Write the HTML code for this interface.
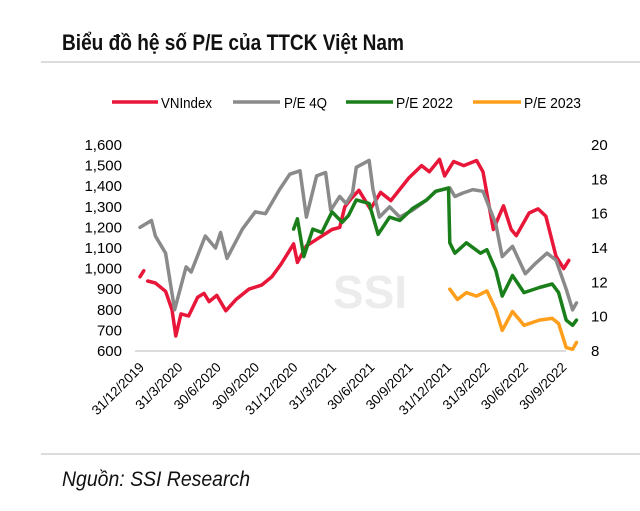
<!DOCTYPE html>
<html><head><meta charset="utf-8"><style>
body{margin:0;background:#fff;}
svg text{font-family:"Liberation Sans",sans-serif;}
</style></head><body>
<svg id="c" width="640" height="506" viewBox="0 0 640 506" xmlns="http://www.w3.org/2000/svg">
<text x="62" y="50" font-size="22" font-weight="bold" fill="#111" textLength="342" lengthAdjust="spacingAndGlyphs">Biểu đồ hệ số P/E của TTCK Việt Nam</text>
<line x1="41" y1="62" x2="640" y2="62" stroke="#d0d0d0" stroke-width="1.5"/>
<g>
<g><line x1="112" y1="102" x2="158" y2="102" stroke="#e8173a" stroke-width="3.5"/><text x="161" y="108" font-size="15" textLength="51" lengthAdjust="spacingAndGlyphs">VNIndex</text></g>
<g><line x1="233" y1="102" x2="280" y2="102" stroke="#8a8a8a" stroke-width="3.5"/><text x="284" y="108" font-size="15" textLength="43" lengthAdjust="spacingAndGlyphs">P/E 4Q</text></g>
<g><line x1="346" y1="102" x2="393" y2="102" stroke="#1a7f1a" stroke-width="3.5"/><text x="396" y="108" font-size="15" textLength="57" lengthAdjust="spacingAndGlyphs">P/E 2022</text></g>
<g><line x1="473" y1="102" x2="521" y2="102" stroke="#ff9e1b" stroke-width="3.5"/><text x="524" y="108" font-size="15" textLength="57" lengthAdjust="spacingAndGlyphs">P/E 2023</text></g>
</g>
<text x="370" y="308" font-size="46" font-weight="bold" fill="#ececec" text-anchor="middle">SSI</text>
<line x1="135" y1="351" x2="566" y2="351" stroke="#d0d0d0" stroke-width="1.5"/>
<g id="yl"></g>
<g id="yr"></g>
<g id="xt"></g>
<g id="series"></g>
<line x1="41" y1="454" x2="640" y2="454" stroke="#d0d0d0" stroke-width="1.5"/>
<text x="62" y="486" font-size="21" font-style="italic" fill="#111" textLength="188" lengthAdjust="spacingAndGlyphs">Nguồn: SSI Research</text>
</svg>
<script>
const leftTicks=[600,700,800,900,1000,1100,1200,1300,1400,1500,1600];
const rightTicks=[8,10,12,14,16,18,20];
const xTickLabels=["31/12/2019","31/3/2020","30/6/2020","30/9/2020","31/12/2020","31/3/2021","30/6/2021","30/9/2021","31/12/2021","31/3/2022","30/6/2022","30/9/2022"];
const xTickMonths=[0,3,6,9,12,15,18,21,24,27,30,33];
const vnMonths=[0,0.3,null,0.6,1.2,2,2.5,2.8,3.2,3.8,4.5,5,5.4,6,6.7,7.5,8.5,9.5,10.3,11,11.7,12,12.3,13,14,15,15.6,16,16.5,17.1,18,18.8,19.6,21,22,22.6,23.4,23.8,24.5,25.3,26.3,26.8,27.6,28.4,29,29.4,30.4,31.1,31.7,32.5,33.1,33.5];
const vnValues=[960,990,null,940,930,890,800,673,780,770,860,880,840,870,795,850,900,920,960,1020,1090,1120,1030,1110,1150,1190,1200,1300,1340,1380,1289,1370,1330,1440,1500,1470,1530,1450,1520,1500,1525,1470,1190,1305,1190,1160,1270,1290,1255,1060,1000,1040];
const pe4qMonths=[0,0.9,1.2,2,2.7,3.6,4,5.1,5.9,6.3,6.8,8,9,9.8,10.9,11.7,12.5,13,13.8,14.5,14.9,15.6,16.1,16.6,16.9,17.9,18.2,18.7,19.5,20.3,21.3,22.4,23.1,24.2,24.6,25.2,26,26.8,27.8,28.3,29.1,30.1,30.9,31.8,32.5,33.3,33.8,34.1];
const pe4qValues=[15.2,15.6,14.7,13.7,10.4,12.9,12.6,14.7,14.0,14.9,13.4,15.1,16.1,16.0,17.4,18.3,18.5,15.8,18.2,18.4,16.2,17.0,16.6,17.2,18.7,19.1,17.4,15.8,16.4,15.8,16.2,16.8,17.3,17.5,17.0,17.2,17.4,17.3,15.4,13.5,14.1,12.5,13.1,13.7,13.3,11.6,10.4,10.8];
const pe22Months=[12,12.3,12.8,13.5,14.2,15,15.8,16.3,16.9,17.9,18.6,19.5,20.3,21.3,22.4,23.1,24.1,24.2,24.6,25.5,26.6,27.1,27.8,28.3,29.1,30,31.2,32.2,32.7,33.3,33.8,34.1];
const pe22Values=[15.1,15.7,13.5,15.1,14.9,16.1,15.5,15.9,16.8,16.6,14.8,15.8,15.6,16.3,16.8,17.3,17.5,14.3,13.7,14.3,13.7,13.9,12.7,11.2,12.4,11.4,11.7,11.9,11.4,9.8,9.5,9.8];
const pe23Months=[24.2,24.8,25.5,26.3,27.1,27.8,28.3,29.1,30,31.2,32.2,32.7,33.3,33.8,34.1];
const pe23Values=[11.6,11.0,11.4,11.2,11.5,10.4,9.2,10.3,9.5,9.8,9.9,9.6,8.2,8.1,8.5];

const NS="http://www.w3.org/2000/svg";
const xS=m=>140+m*12.8;
const yL=v=>351-(v-600)*0.206;
const yR=v=>351-(v-8)*(206/12);
function mk(t,a,p){const e=document.createElementNS(NS,t);for(const k in a)e.setAttribute(k,a[k]);p.appendChild(e);return e;}
const yl=document.getElementById('yl'),yr=document.getElementById('yr'),xt=document.getElementById('xt'),sg=document.getElementById('series');
leftTicks.forEach(v=>{const t=mk('text',{x:122,y:yL(v)+5,'font-size':15,'text-anchor':'end'},yl);t.textContent=v.toLocaleString('en-US');

});
rightTicks.forEach(v=>{const t=mk('text',{x:591,y:yR(v)+5,'font-size':15},yr);t.textContent=v;

});
xTickLabels.forEach((l,i)=>{const x=xS(xTickMonths[i])+5,y=368;const t=mk('text',{x:x,y:y,'font-size':13.5,'text-anchor':'end',transform:`rotate(-45 ${x} ${y})`},xt);t.textContent=l;

});
function draw(ms,vs,yf,col,name){let d='',pen=false;ms.forEach((m,i)=>{if(m===null||vs[i]===null){pen=false;return;}d+=(pen?'L':'M')+xS(m).toFixed(1)+' '+yf(vs[i]).toFixed(1)+' ';pen=true;});
const p=mk('path',{d:d,fill:'none',stroke:col,'stroke-width':3.5,'stroke-linejoin':'round','stroke-linecap':'round'},sg);

}
draw(vnMonths,vnValues,yL,'#e8173a','vnindex-line');
draw(pe4qMonths,pe4qValues,yR,'#8a8a8a','pe-4q-line');
draw(pe22Months,pe22Values,yR,'#1a7f1a','pe-2022-line');
draw(pe23Months,pe23Values,yR,'#ff9e1b','pe-2023-line');
</script>
</body></html>
